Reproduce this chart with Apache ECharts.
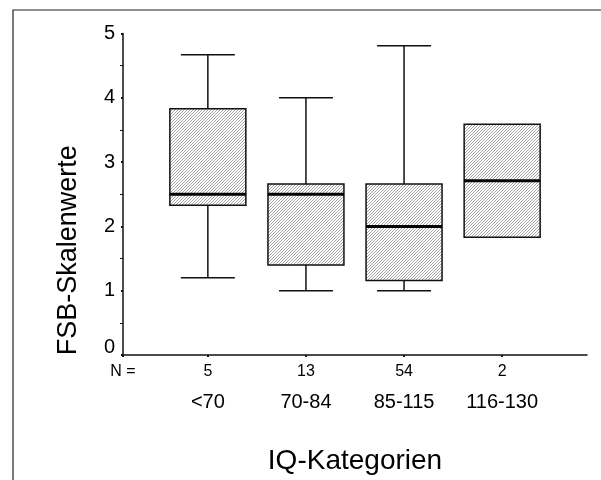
<!DOCTYPE html>
<html>
<head>
<meta charset="utf-8">
<script src="https://cdn.jsdelivr.net/npm/echarts@6/dist/echarts.min.js"></script>
<style>
  html, body { margin: 0; padding: 0; background: #fff; }
  #chart { width: 601px; height: 480px; }
</style>
</head>
<body>
<div id="chart"></div>
<script>
const categories = ['<70', '70-84', '85-115', '116-130']
const nCounts = [5, 13, 54, 2]
const whiskerLow = [1.2, 1.0, 1.0, 1.83]
const q1 = [2.33, 1.4, 1.16, 1.83]
const median = [2.5, 2.5, 2.0, 2.71]
const q3 = [3.83, 2.66, 2.66, 3.59]
const whiskerHigh = [4.67, 4.0, 4.81, 3.59]
const yTicks = [0, 1, 2, 3, 4, 5]

const X_MIN = 0.135
const X_MAX = 4.865
const FONT = '"Liberation Sans", Arial, sans-serif'

// feine Schraffur fuer die Boxen
const tile = document.createElement('canvas')
tile.width = 3
tile.height = 3
const tctx = tile.getContext('2d')
tctx.fillStyle = '#fff'
tctx.fillRect(0, 0, 3, 3)
tctx.fillStyle = '#a4a4a4'
tctx.fillRect(2, 0, 1, 1)
tctx.fillRect(1, 1, 1, 1)
tctx.fillRect(0, 2, 1, 1)

const boxData = categories.map((c, i) => [i + 1, whiskerLow[i], q1[i], median[i], q3[i], whiskerHigh[i]])
const tickPos = [X_MIN].concat(categories.map((c, i) => i + 1))

const chart = echarts.init(document.getElementById('chart'))

const renderBox = (params, api) => {
  const x = api.value(0)
  const pLow = api.coord([x, api.value(1)])
  const pQ1 = api.coord([x, api.value(2)])
  const pMed = api.coord([x, api.value(3)])
  const pQ3 = api.coord([x, api.value(4)])
  const pHigh = api.coord([x, api.value(5)])
  const cx = pQ1[0]
  const boxW = 76
  const capW = 54
  const children = []
  const lineStyle = { stroke: '#111', lineWidth: 1.5 }
  if (api.value(5) > api.value(4)) {
    children.push({ type: 'line', shape: { x1: cx, y1: pQ3[1], x2: cx, y2: pHigh[1] }, style: lineStyle })
    children.push({ type: 'line', shape: { x1: cx - capW / 2, y1: pHigh[1], x2: cx + capW / 2, y2: pHigh[1] }, style: lineStyle })
  }
  if (api.value(1) < api.value(2)) {
    children.push({ type: 'line', shape: { x1: cx, y1: pQ1[1], x2: cx, y2: pLow[1] }, style: lineStyle })
    children.push({ type: 'line', shape: { x1: cx - capW / 2, y1: pLow[1], x2: cx + capW / 2, y2: pLow[1] }, style: lineStyle })
  }
  children.push({
    type: 'rect',
    shape: { x: cx - boxW / 2, y: pQ3[1], width: boxW, height: pQ1[1] - pQ3[1] },
    style: { fill: { image: tile, repeat: 'repeat' }, stroke: '#111', lineWidth: 1.5 }
  })
  children.push({ type: 'line', shape: { x1: cx - boxW / 2, y1: pMed[1], x2: cx + boxW / 2, y2: pMed[1] }, style: { stroke: '#000', lineWidth: 3 } })
  return { type: 'group', children }
}

const option = {
  animation: false,
  textStyle: { fontFamily: FONT, color: '#000' },
  graphic: [
    {
      type: 'rect',
      shape: { x: 13, y: 10, width: 620, height: 500 },
      style: { fill: 'none', stroke: '#222', lineWidth: 1.2 },
      silent: true
    }
  ],
  grid: { left: 123, right: 14, top: 33.5, bottom: 124.5 },
  xAxis: [
    {
      type: 'value',
      min: X_MIN,
      max: X_MAX,
      splitLine: { show: false },
      axisLine: { show: true, onZero: false, lineStyle: { color: '#111', width: 1.5 } },
      axisTick: { show: true, customValues: tickPos, length: 2, lineStyle: { color: '#111', width: 2 } },
      axisLabel: {
        show: true,
        customValues: tickPos,
        margin: 9,
        fontSize: 16,
        fontFamily: FONT,
        color: '#000',
        formatter: (v) => {
          const idx = Math.round(v) - 1
          if (v < 0.5) return 'N ='
          return String(nCounts[idx])
        }
      },
      name: 'IQ-Kategorien',
      nameLocation: 'middle',
      nameGap: 92,
      nameTextStyle: { fontSize: 28, fontFamily: FONT, color: '#000' }
    },
    {
      type: 'value',
      min: X_MIN,
      max: X_MAX,
      position: 'bottom',
      splitLine: { show: false },
      axisLine: { show: false },
      axisTick: { show: false },
      axisLabel: {
        show: true,
        customValues: categories.map((c, i) => i + 1),
        margin: 37,
        fontSize: 20,
        fontFamily: FONT,
        color: '#000',
        formatter: (v) => categories[Math.round(v) - 1]
      }
    }
  ],
  yAxis: {
    type: 'value',
    min: yTicks[0],
    max: yTicks[yTicks.length - 1],
    interval: 1,
    splitLine: { show: false },
    axisLine: { show: true, lineStyle: { color: '#111', width: 1.5 } },
    axisTick: { show: true, length: 2, lineStyle: { color: '#111', width: 2 } },
    minorTick: { show: true, splitNumber: 2, length: 3, lineStyle: { color: '#111', width: 1 } },
    axisLabel: {
      margin: 8,
      fontSize: 20,
      fontFamily: FONT,
      color: '#000',
      formatter: (v) => (v === 0 ? '{z|0}' : String(v)),
      rich: { z: { fontSize: 20, fontFamily: FONT, color: '#000', padding: [0, 0, 16, 0] } }
    },
    name: 'FSB-Skalenwerte',
    nameLocation: 'middle',
    nameGap: 41,
    nameTextStyle: { fontSize: 27, fontFamily: FONT, color: '#000', padding: [0, 112, 0, 0] }
  },
  series: [
    {
      type: 'custom',
      xAxisIndex: 0,
      yAxisIndex: 0,
      renderItem: renderBox,
      encode: { x: 0, y: [1, 2, 3, 4, 5] },
      data: boxData
    }
  ]
}

chart.setOption(option)
</script>
</body>
</html>
